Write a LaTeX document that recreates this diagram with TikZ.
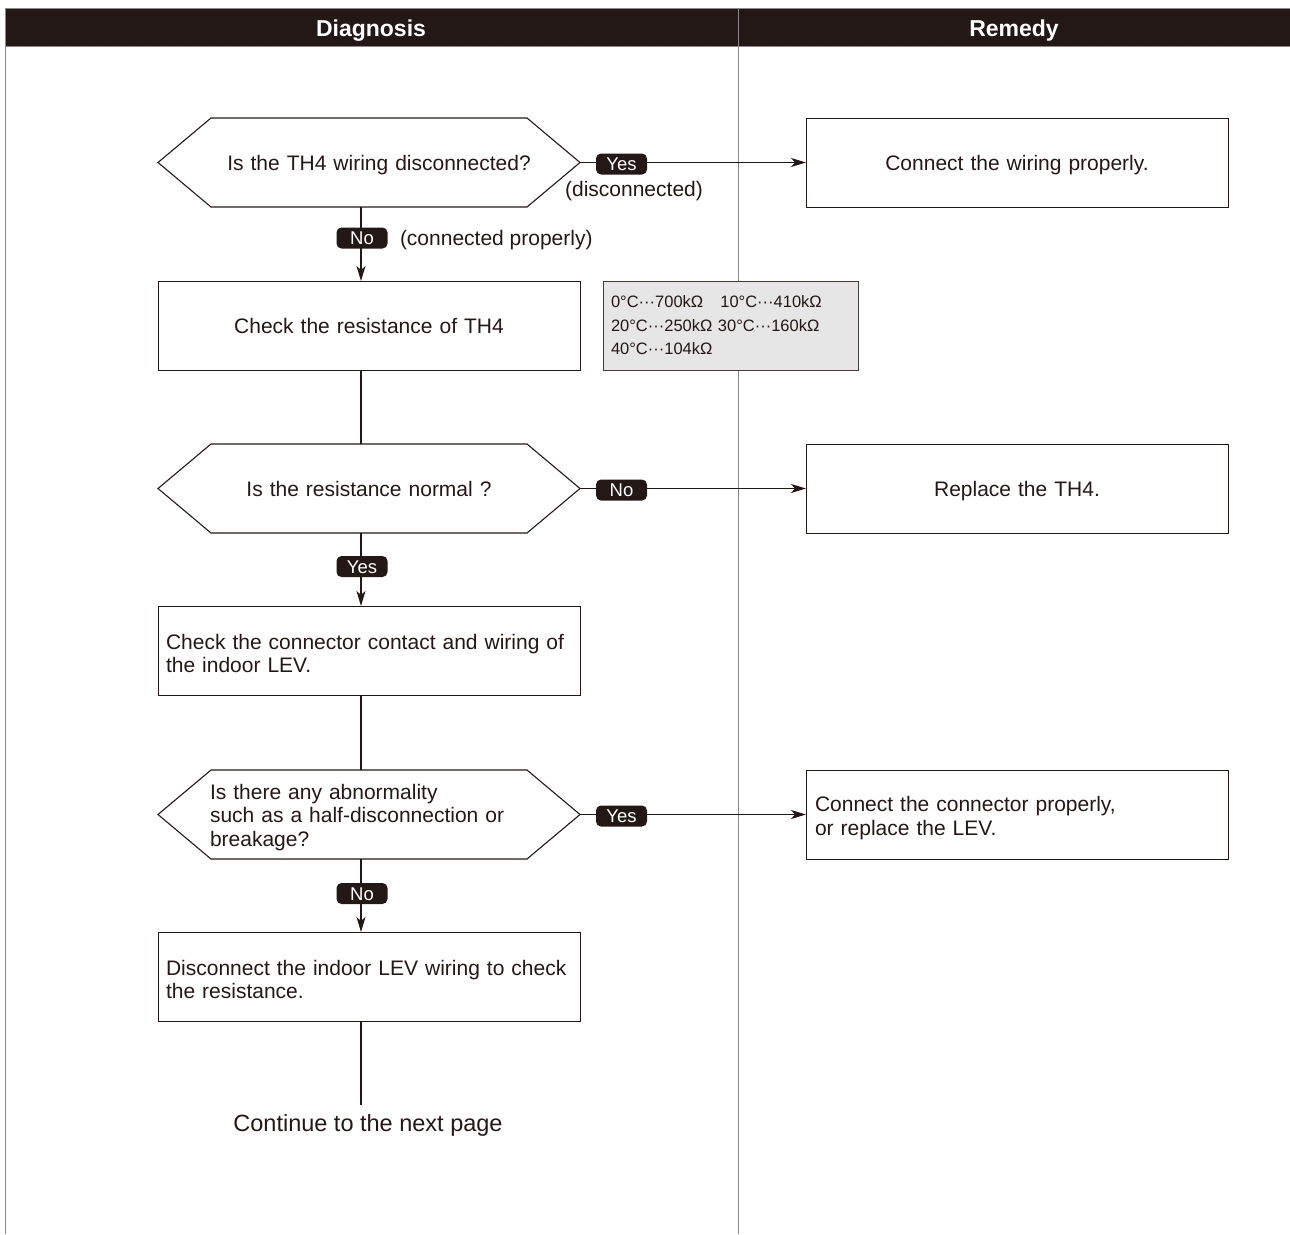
\documentclass[tikz,border=0pt]{standalone}
\usepackage{fontspec}
\setmainfont{Liberation Sans}
\usetikzlibrary{arrows.meta,calc}
\definecolor{ink}{HTML}{231816}
\definecolor{rulec}{HTML}{8A8A8A}
\definecolor{tblc}{HTML}{E6E6E6}
\newcommand\hexdraw[1]{\draw[link] (#1.west) -- ($(#1.north west)+(53,0)$) -- ($(#1.north east)+(-53,0)$) -- (#1.east) -- ($(#1.south east)+(-53,0)$) -- ($(#1.south west)+(53,0)$) -- cycle;}
\begin{document}
\begin{tikzpicture}[x=1pt,y=-1pt,
  every node/.style={inner sep=0pt, outer sep=0pt},
  txt/.style={font=\fontsize{21}{23.5}\selectfont, text=ink},
  one/.style={text depth=0pt},
  multi/.style={text height=21pt},
  box/.style={txt, draw=ink, line width=1pt, minimum width=422pt, minimum height=89pt, anchor=north west, text width=406pt, inner xsep=8pt, align=center},
  lbox/.style={box, align=left, multi},
  dec/.style={txt, minimum width=422pt, minimum height=89pt, anchor=north west, text width=406pt, inner xsep=8pt, align=center},
  badge/.style={fill=ink, text=white, rounded corners=5pt, minimum width=51pt, minimum height=21pt, font=\fontsize{18.5}{18.5}\selectfont, text height=13.5pt, text depth=0pt},
  link/.style={draw=ink, line width=1.1pt},
  arr/.style={link, -{Stealth[length=15pt,width=9pt,inset=4pt]}},
  colrule/.style={draw=rulec, line width=1pt},
  hdrtxt/.style={text=white, font=\fontsize{23}{23}\selectfont\bfseries, text depth=0pt},
]
\useasboundingbox (0,0) rectangle (1290,1234);
% header and columns
\fill[ink] (5,8) rectangle (1290,46);
\draw[colrule] (5,8) -- (1290,8);
\draw[colrule] (5,46) -- (1290,46);
\draw[colrule] (5,8) -- (5,1234);
\draw[colrule] (738,8) -- (738,1234);
\node[hdrtxt] (hd1) at (371,28) {Diagnosis};
\node[hdrtxt] (hd2) at (1014,28) {Remedy};

\coordinate (spine) at (361,0);

% decisions
\node[dec, one] (d1) at (158,118) {\hspace*{20pt}Is the TH4 wiring disconnected?};
\node[dec, one] (d2) at (158,444) {Is the resistance normal ?};
\node[dec, multi, text width=318pt, inner xsep=52pt, align=left] (d3) at (158,770)
  {Is there any abnormality\\such as a half-disconnection or\\breakage?};
\hexdraw{d1}
\hexdraw{d2}
\hexdraw{d3}

% process boxes
\node[box, one] (b2) at (158,281) {Check the resistance of TH4};
\node[lbox] (b3) at (158,606) {Check the connector contact and wiring of\\the indoor LEV.};
\node[lbox] (b4) at (158,932) {Disconnect the indoor LEV wiring to check\\the resistance.};

% remedies
\node[box, one] (r1) at (806,118) {Connect the wiring properly.};
\node[box, one] (r2) at (806,444) {Replace the TH4.};
\node[lbox, text height=22pt, inner xsep=9pt, text width=404pt] (r3) at (806,770) {Connect the connector properly,\\or replace the LEV.};

% table
\node[draw=ink!85, fill=tblc, line width=1pt, anchor=north west, minimum width=255pt, minimum height=89pt,
      text width=239pt, inner xsep=8pt, align=left, font=\fontsize{16.5}{23.5}\selectfont, text=ink] (tab) at (603,281)
  {0°C···700kΩ\hspace{0.7em} 10°C···410kΩ\\20°C···250kΩ\ 30°C···160kΩ\\40°C···104kΩ};

\node[txt, one, font=\fontsize{23.5}{24}\selectfont] (cont) at (368,1123) {Continue to the next page};

% connectors
\draw[arr] (d1.east) -- (r1.west);
\draw[arr] (d2.east) -- (r2.west);
\draw[arr] (d3.east) -- (r3.west);
\draw[arr] (d1.south -| spine) -- (b2.north -| spine);
\draw[link] (b2.south -| spine) -- (d2.north -| spine);
\draw[arr] (d2.south -| spine) -- (b3.north -| spine);
\draw[link] (b3.south -| spine) -- (d3.north -| spine);
\draw[arr] (d3.south -| spine) -- (b4.north -| spine);
\draw[link, shorten >=10pt] (b4.south -| spine) -- (cont.north -| spine);

% badges
\node[badge] (y1) at (621.5,164) {Yes};
\node[badge] (n1) at (362,238) {No};
\node[badge] (n2) at (621.5,490) {No};
\node[badge] (y2) at (362,566.5) {Yes};
\node[badge] (y3) at (621.5,816) {Yes};
\node[badge] (n3) at (362,893.5) {No};
\node[txt, one] (l1) at (634,189) {(disconnected)};
\node[txt, one, anchor=west] (l2) at (400,238) {(connected properly)};
\end{tikzpicture}
\end{document}
